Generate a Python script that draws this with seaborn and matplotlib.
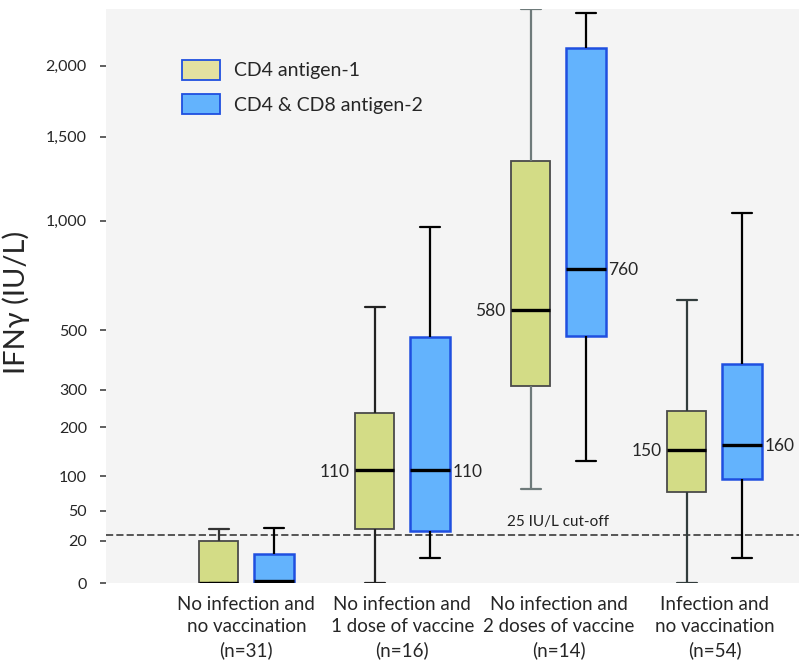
import numpy as np
import pandas as pd
import matplotlib
matplotlib.use("Agg")
import matplotlib.pyplot as plt
import seaborn as sns
from matplotlib.patches import Patch

# ---------------- data ----------------
groups = [
    "No infection and\nno vaccination\n(n=31)",
    "No infection and\n1 dose of vaccine\n(n=16)",
    "No infection and\n2 doses of vaccine\n(n=14)",
    "Infection and\nno vaccination\n(n=54)",
]
series = ["CD4 antigen-1", "CD4 & CD8 antigen-2"]

# five-number summaries per group: min, q1, median, q3, max
antigen1 = [
    [0, 0, 0, 20, 30],
    [0, 30, 110, 235, 590],
    [80, 310, 580, 1345, 2450],
    [0, 75, 150, 240, 620],
]
antigen2 = [
    [0, 0, 0.5, 11, 31],
    [9, 28, 110, 475, 965],
    [127, 480, 760, 2140, 2420],
    [9, 95, 160, 380, 1040],
]
labelled_groups = [1, 2, 3]          # groups whose medians are annotated
cutoff = 25
cutoff_label = "25 IU/L cut-off"
yticks = [0, 20, 50, 100, 200, 300, 500, 1000, 1500, 2000]
ytick_labels = ["0", "20", "50", "100", "200", "300", "500", "1,000", "1,500", "2,000"]
ylabel = "IFNγ (IU/L)"

rows = []
for gi, g in enumerate(groups):
    for s, vals in zip(series, [antigen1, antigen2]):
        for v in vals[gi]:
            rows.append({"group": g, "series": s, "value": v})
df = pd.DataFrame(rows)

# ---------------- style ----------------
sns.set_style("white")
plt.rcParams["font.family"] = ["Lato", "DejaVu Sans"]

yellow = "#d3dc86"
blue = "#63b3fd"
blue_edge = "#1f4fe0"
yellow_edge = "#4a4a4a"
legend_yellow = "#e4e1a0"

fig = plt.figure(figsize=(8.1, 6.6), dpi=100)
ax = fig.add_axes([0.1309, 0.1162, 0.8559, 0.8697])
ax.set_facecolor("#f4f4f4")


def fwd(x):
    x = np.asarray(x, dtype=float)
    return np.sign(x) * (np.sqrt(np.abs(x) + 1) - 1)


def inv(y):
    y = np.asarray(y, dtype=float)
    return np.sign(y) * ((np.abs(y) + 1) ** 2 - 1)


ax.set_yscale("function", functions=(fwd, inv))

WIDTH, GAP = 0.71, 0.29
sns.boxplot(
    data=df, x="group", y="value", hue="series", order=groups, hue_order=series,
    palette=[yellow, blue], saturation=1, width=WIDTH, gap=GAP, whis=(0, 100),
    linewidth=1.5, linecolor="black", fliersize=0, legend=False, ax=ax,
    medianprops=dict(color="black", linewidth=2.4),
)

yellow_whisker_cols = ["#333333", "#222222", "#6e7a7a", "#323c3c"]
for ci, cont in enumerate(ax.containers):
    for bi, box in enumerate(cont.boxes):
        if ci == 0:
            box.set_edgecolor(yellow_edge)
            box.set_linewidth(1.3)
        else:
            box.set_edgecolor(blue_edge)
            box.set_linewidth(1.8)
    if ci == 0:
        for bi in range(len(cont.boxes)):
            for w in cont.whiskers[2 * bi:2 * bi + 2]:
                w.set_color(yellow_whisker_cols[bi])
            for c in cont.caps[2 * bi:2 * bi + 2]:
                c.set_color(yellow_whisker_cols[bi])
    for w in cont.whiskers:
        w.set_linewidth(1.6)
    for c in cont.caps:
        c.set_linewidth(1.6)

# cut-off line
ax.axhline(cutoff, ls="--", color="#555555", lw=1.4, zorder=1)
ax.annotate(cutoff_label, xy=(2, cutoff), xytext=(0, 4), textcoords="offset points",
            ha="center", va="bottom", fontsize=11, color="#222222")

# median annotations
off = WIDTH / 4
half = (WIDTH / 2) * (1 - GAP) / 2
for gi in labelled_groups:
    m1 = antigen1[gi][2]
    m2 = antigen2[gi][2]
    ax.annotate(f"{m1:.0f}", xy=(gi - off - half, m1), xytext=(-4, -1),
                textcoords="offset points", ha="right", va="center", fontsize=12.5)
    ax.annotate(f"{m2:.0f}", xy=(gi + off + half, m2), xytext=(2, -1),
                textcoords="offset points", ha="left", va="center", fontsize=12.5)

# axes
ax.set_ylim(0, 2450)
ax.set_xlim(-0.90, 3.544)
ax.set_yticks(yticks)
ax.set_yticklabels(ytick_labels)
ax.minorticks_off()
ax.tick_params(axis="y", length=4.3, width=1.2, color="#444444", pad=9.5,
               labelsize=11.5, left=True)
ax.tick_params(axis="x", length=0, pad=9, labelsize=13.5)
for t in ax.get_xticklabels():
    t.set_linespacing(1.4)
ax.set_xlabel("")
ax.set_ylabel(ylabel, fontsize=21)
ax.yaxis.set_label_coords(-0.110, 0.49)
for sp in ax.spines.values():
    sp.set_visible(False)

handles = [Patch(facecolor=legend_yellow, edgecolor=blue_edge, linewidth=1.3),
           Patch(facecolor=blue, edgecolor=blue_edge, linewidth=1.3)]
ax.legend(handles, series, loc="upper left", bbox_to_anchor=(0.109, 0.912),
          frameon=False, fontsize=14, handlelength=2.0, handleheight=1.2,
          handletextpad=0.7, labelspacing=0.75, borderpad=0, borderaxespad=0)

fig.savefig("out.png", dpi=100, facecolor="white")
